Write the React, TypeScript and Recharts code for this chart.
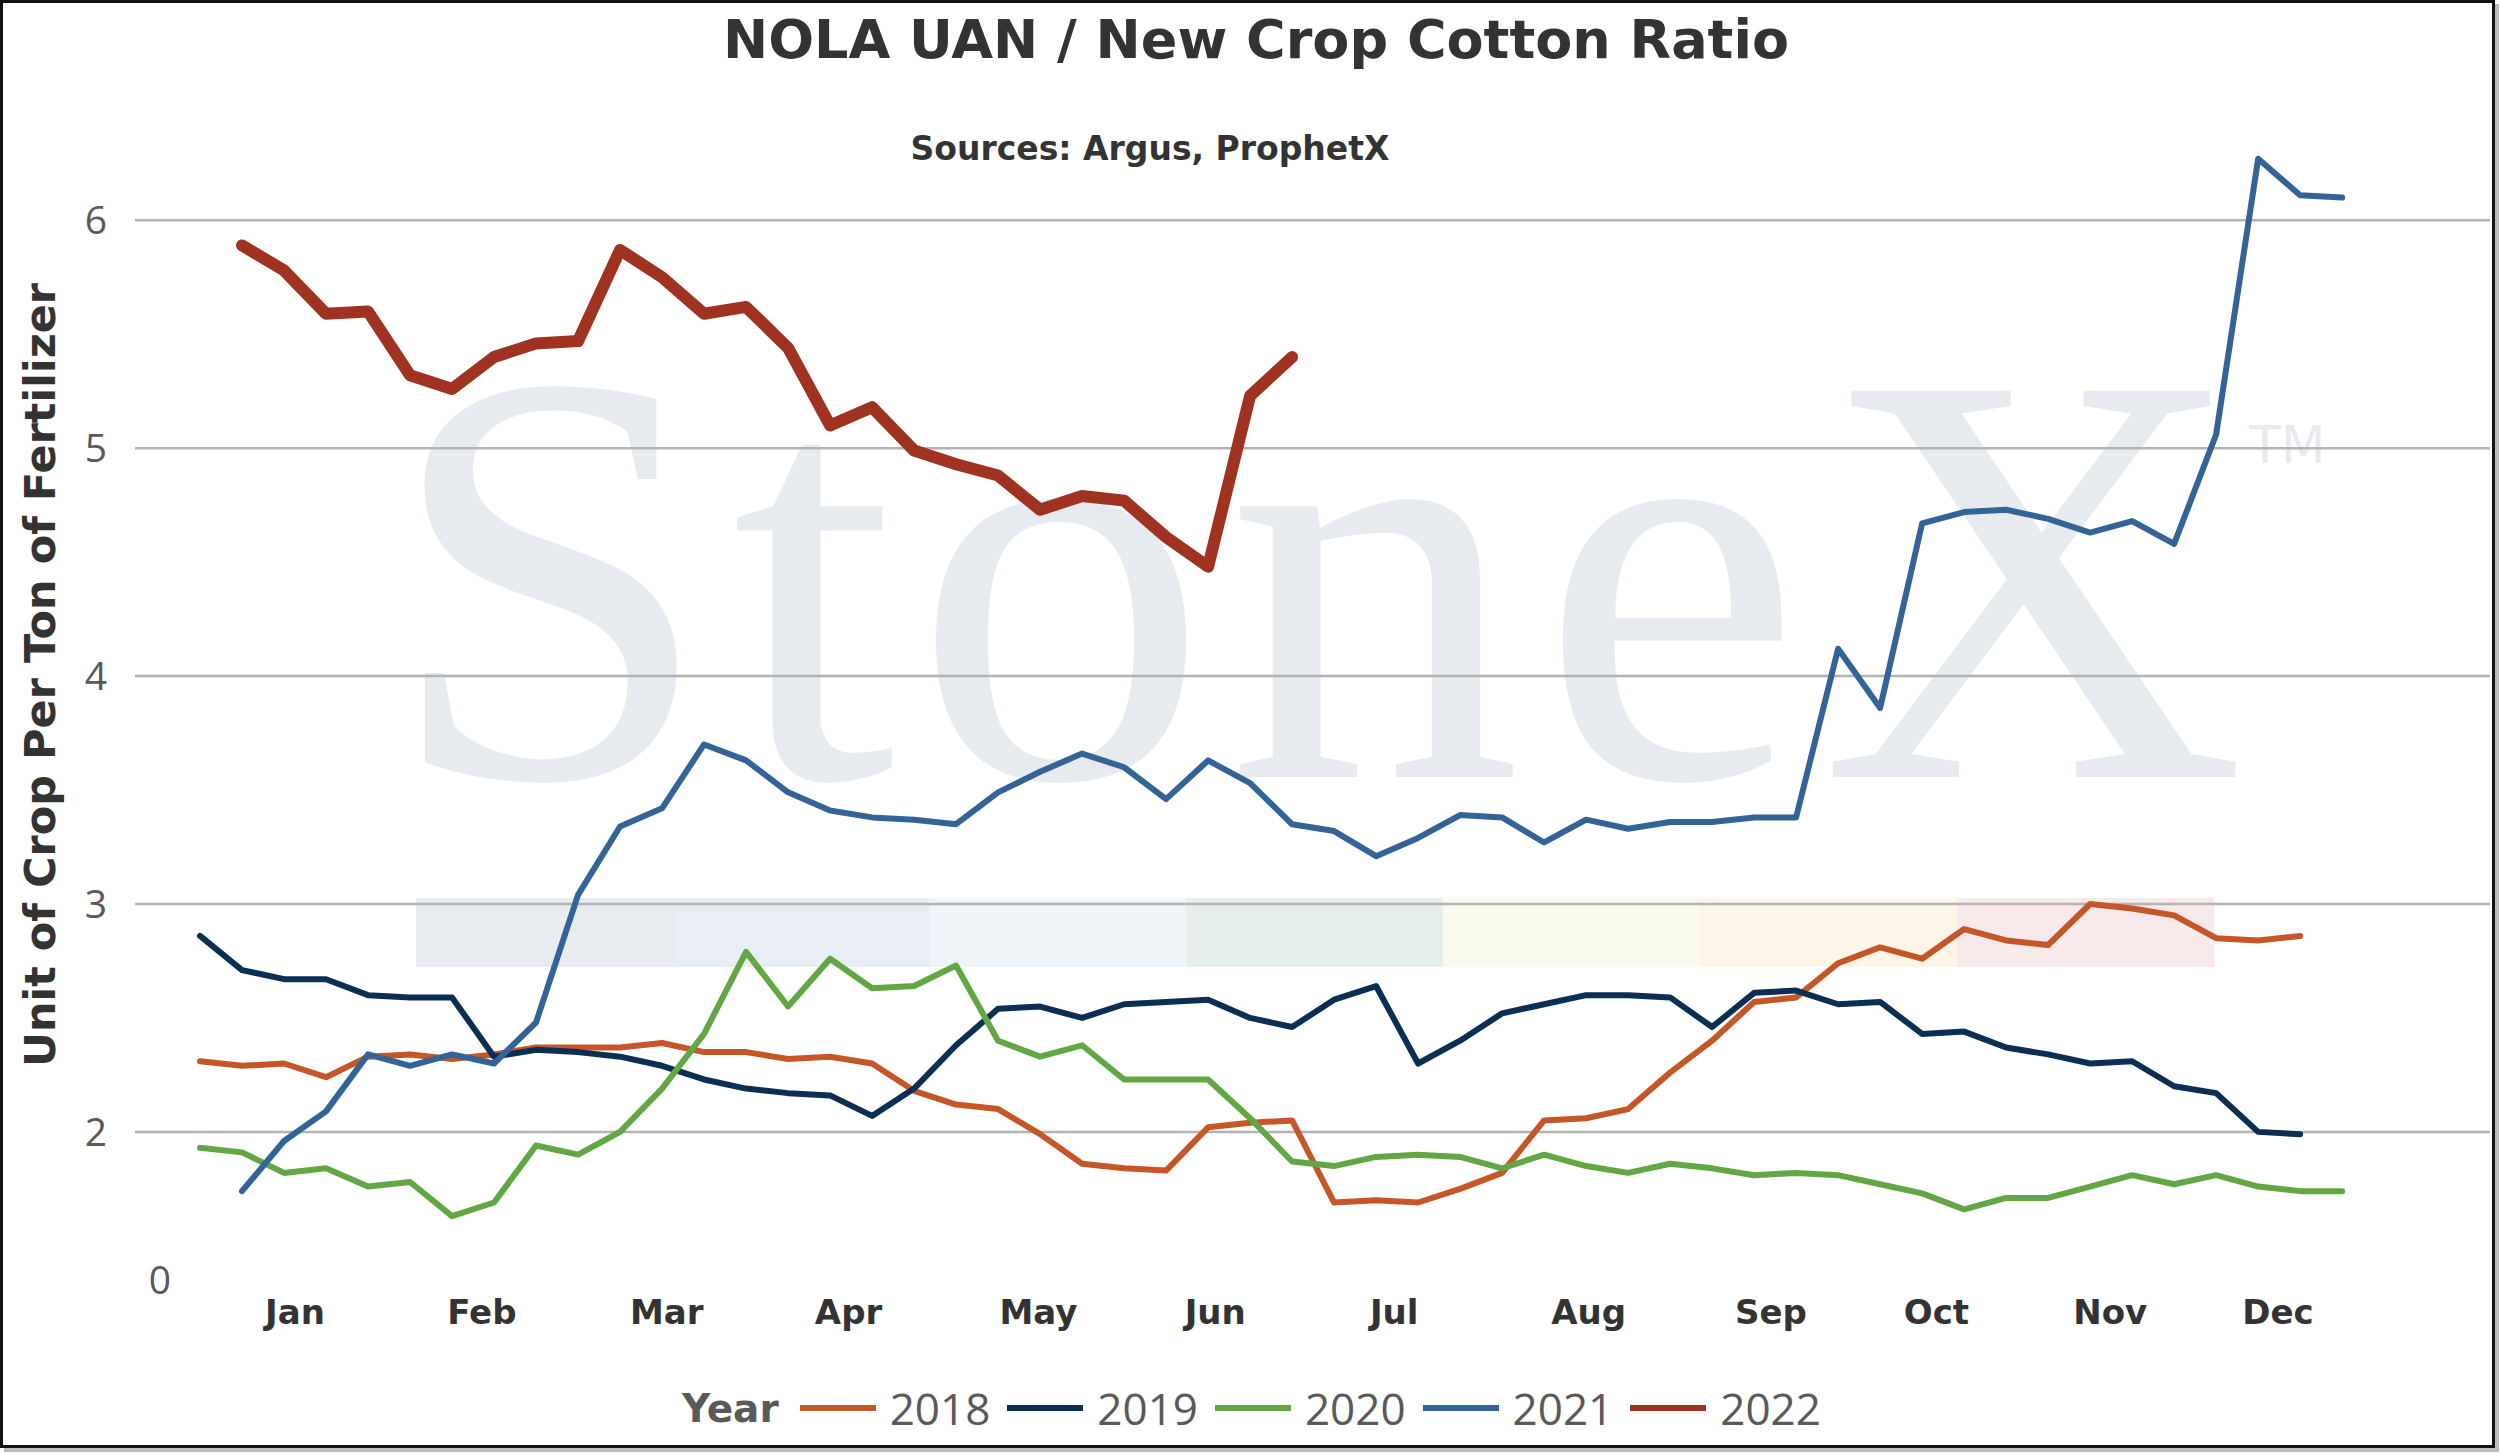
import { LineChart, Line, XAxis, YAxis, ReferenceLine } from 'recharts';

const YEARS = ['2018', '2019', '2020', '2021', '2022'];
const START_WEEKS = [0, 0, 0, 1, 1];

const VALUES_2018 = [
  2.31, 2.29, 2.3, 2.24, 2.33, 2.34, 2.32, 2.34, 2.37, 2.37, 2.37, 2.39, 2.35, 2.35, 2.32,
  2.33, 2.3, 2.18, 2.12, 2.1, 1.99, 1.86, 1.84, 1.83, 2.02, 2.04, 2.05, 1.69, 1.7, 1.69,
  1.75, 1.82, 2.05, 2.06, 2.1, 2.26, 2.4, 2.57, 2.59, 2.74, 2.81, 2.76, 2.89, 2.84, 2.82,
  3.0, 2.98, 2.95, 2.85, 2.84, 2.86,
];
const VALUES_2019 = [
  2.86, 2.71, 2.67, 2.67, 2.6, 2.59, 2.59, 2.33, 2.36, 2.35, 2.33, 2.29, 2.23, 2.19, 2.17,
  2.16, 2.07, 2.19, 2.38, 2.54, 2.55, 2.5, 2.56, 2.57, 2.58, 2.5, 2.46, 2.58, 2.64, 2.3,
  2.4, 2.52, 2.56, 2.6, 2.6, 2.59, 2.46, 2.61, 2.62, 2.56, 2.57, 2.43, 2.44, 2.37, 2.34,
  2.3, 2.31, 2.2, 2.17, 2.0, 1.99,
];
const VALUES_2020 = [
  1.93, 1.91, 1.82, 1.84, 1.76, 1.78, 1.63, 1.69, 1.94, 1.9, 2.0, 2.19, 2.43, 2.79, 2.55,
  2.76, 2.63, 2.64, 2.73, 2.4, 2.33, 2.38, 2.23, 2.23, 2.23, 2.06, 1.87, 1.85, 1.89, 1.9,
  1.89, 1.84, 1.9, 1.85, 1.82, 1.86, 1.84, 1.81, 1.82, 1.81, 1.77, 1.73, 1.66, 1.71, 1.71,
  1.76, 1.81, 1.77, 1.81, 1.76, 1.74, 1.74,
];
const VALUES_2021 = [
  1.74, 1.96, 2.09, 2.34, 2.29, 2.34, 2.3, 2.48, 3.04, 3.34, 3.42, 3.7, 3.63, 3.49, 3.41,
  3.38, 3.37, 3.35, 3.49, 3.58, 3.66, 3.6, 3.46, 3.63, 3.53, 3.35, 3.32, 3.21, 3.29, 3.39,
  3.38, 3.27, 3.37, 3.33, 3.36, 3.36, 3.38, 3.38, 4.12, 3.86, 4.67, 4.72, 4.73, 4.69, 4.63,
  4.68, 4.58, 5.06, 6.27, 6.11, 6.1,
];
const VALUES_2022 = [
  5.89, 5.78, 5.59, 5.6, 5.32, 5.26, 5.4, 5.46, 5.47, 5.87, 5.75, 5.59, 5.62, 5.44, 5.1,
  5.18, 4.99, 4.93, 4.88, 4.73, 4.79, 4.77, 4.61, 4.48, 5.23, 5.4,
];
const SERIES_VALUES = [VALUES_2018, VALUES_2019, VALUES_2020, VALUES_2021, VALUES_2022];

const MONTH_LABELS = ['Jan', 'Feb', 'Mar', 'Apr', 'May', 'Jun', 'Jul', 'Aug', 'Sep', 'Oct', 'Nov', 'Dec'];
const MONTH_TICKS = [2.26, 6.71, 11.11, 15.44, 19.96, 24.17, 28.43, 33.06, 37.4, 41.34, 45.48, 49.47];

const Y_TICKS = [1.35, 2, 3, 4, 5, 6];
const Y_TICK_LABELS = ['0', '2', '3', '4', '5', '6'];
const GRID_VALUES = [2, 3, 4, 5, 6];

const LINE_COLORS = ['#C55628', '#0A2F52', '#62A744', '#346398', '#A03222'];
const LINE_WIDTHS = [6, 6, 6, 6, 12];

const BAND_COLORS = ['#e8ebf0', '#e9eef5', '#eff4f9', '#e6efe9', '#fafaef', '#fdf5e8', '#f8e9ea'];

const tableData = (() => {
  const lastWeek = Math.max(...SERIES_VALUES.map((v, i) => v.length + START_WEEKS[i]));
  const rows: Record<string, number>[] = [];
  for (let w = 0; w < lastWeek; w++) {
    const row: Record<string, number> = { week: w };
    YEARS.forEach((year, i) => {
      const k = w - START_WEEKS[i];
      if (k >= 0 && k < SERIES_VALUES[i].length) row[year] = SERIES_VALUES[i][k];
    });
    rows.push(row);
  }
  return rows;
})();

const W = 2501;
const H = 1453;

function MonthTick({ x, y, payload }: any) {
  const idx = MONTH_TICKS.indexOf(payload.value);
  return (
    <text
      x={x}
      y={y}
      dy={44}
      textAnchor="middle"
      fontFamily="DejaVu Sans"
      fontWeight="bold"
      fontSize={34}
      fill="#333"
    >
      {MONTH_LABELS[idx]}
    </text>
  );
}

function ValueTick({ x, y, payload }: any) {
  const idx = Y_TICKS.indexOf(payload.value);
  const isMin = idx === 0;
  return (
    <text
      x={x}
      y={y}
      dx={isMin ? 36 : -28}
      dy={14}
      textAnchor="end"
      fontFamily="Open Sans"
      fontSize={39}
      fill="#595959"
    >
      {Y_TICK_LABELS[idx]}
    </text>
  );
}

export default function App() {
  return (
    <div style={{ position: 'absolute', left: 0, top: 0, width: W, height: H, background: '#fff', overflow: 'hidden' }}>
      <div
        style={{
          position: 'absolute',
          left: 0,
          top: 0,
          width: 2495,
          height: 1448,
          border: '3px solid #111',
          boxSizing: 'border-box',
          boxShadow: '4px 4px 0 #bdbdbd',
        }}
      />
      {/* StoneX watermark */}
      <svg width={W} height={H} style={{ position: 'absolute', left: 0, top: 0 }}>
        {BAND_COLORS.map((c, i) => (
          <rect key={c} x={416 + i * 256.8} y={898} width={257.5} height={69} fill={c} />
        ))}
        <text
          x={385}
          y={777}
          fontFamily="Liberation Serif"
          fontSize={590}
          textLength={1861}
          lengthAdjust="spacing"
          fill="#e7eaef"
        >
          StoneX
        </text>
        <text x={2249} y={463} fontFamily="DejaVu Sans" fontSize={52} fill="#e7eaef">
          TM
        </text>
      </svg>
      <div style={{ position: 'absolute', left: 0, top: 0 }}>
        <LineChart width={W} height={H} data={tableData} margin={{ top: 95, right: 11, bottom: 0, left: 0 }}>
          <XAxis
            dataKey="week"
            type="number"
            domain={[-1.548, 54.52]}
            ticks={MONTH_TICKS}
            tick={<MonthTick />}
            tickLine={false}
            axisLine={false}
            tickSize={0}
            tickMargin={0}
            height={173}
            interval={0}
            allowDataOverflow
          />
          <YAxis
            type="number"
            domain={[1.35, 6.55]}
            ticks={Y_TICKS}
            tick={<ValueTick />}
            tickLine={false}
            axisLine={false}
            tickSize={0}
            tickMargin={0}
            width={135}
            interval={0}
            allowDataOverflow
          />
          {GRID_VALUES.map((v) => (
            <ReferenceLine key={v} y={v} stroke="#b3b3b3" strokeWidth={2.5} ifOverflow="visible" />
          ))}
          {YEARS.map((year, i) => (
            <Line
              key={year}
              type="linear"
              dataKey={year}
              stroke={LINE_COLORS[i]}
              strokeWidth={LINE_WIDTHS[i]}
              strokeLinecap="round"
              strokeLinejoin="round"
              dot={false}
              activeDot={false}
              isAnimationActive={false}
            />
          ))}
        </LineChart>
      </div>
      <svg width={W} height={H} style={{ position: 'absolute', left: 0, top: 0, pointerEvents: 'none' }}>
        <text x={1256} y={58} textAnchor="middle" fontFamily="DejaVu Sans" fontWeight="bold" fontSize={54} fill="#333">
          NOLA UAN / New Crop Cotton Ratio
        </text>
        <text x={1150} y={160} textAnchor="middle" fontFamily="DejaVu Sans" fontWeight="bold" fontSize={33} fill="#333">
          Sources: Argus, ProphetX
        </text>
        <text
          x={55}
          y={675}
          transform="rotate(-90 55 675)"
          textAnchor="middle"
          fontFamily="DejaVu Sans"
          fontWeight="bold"
          fontSize={43}
          fill="#333"
        >
          Unit of Crop Per Ton of Fertilizer
        </text>
      </svg>
      <div
        style={{
          position: 'absolute',
          left: 682,
          top: 1380,
          height: 56,
          display: 'flex',
          alignItems: 'center',
          color: '#595959',
        }}
      >
        <span style={{ fontFamily: 'DejaVu Sans', fontWeight: 'bold', fontSize: 39, marginRight: 21 }}>Year</span>
        {YEARS.map((year, i) => (
          <span key={year} style={{ display: 'flex', alignItems: 'center', marginRight: 17 }}>
            <span style={{ display: 'inline-block', width: 76, height: 6, background: LINE_COLORS[i], marginRight: 14 }} />
            <span style={{ fontFamily: 'Open Sans', fontSize: 44 }}>{year}</span>
          </span>
        ))}
      </div>
    </div>
  );
}
